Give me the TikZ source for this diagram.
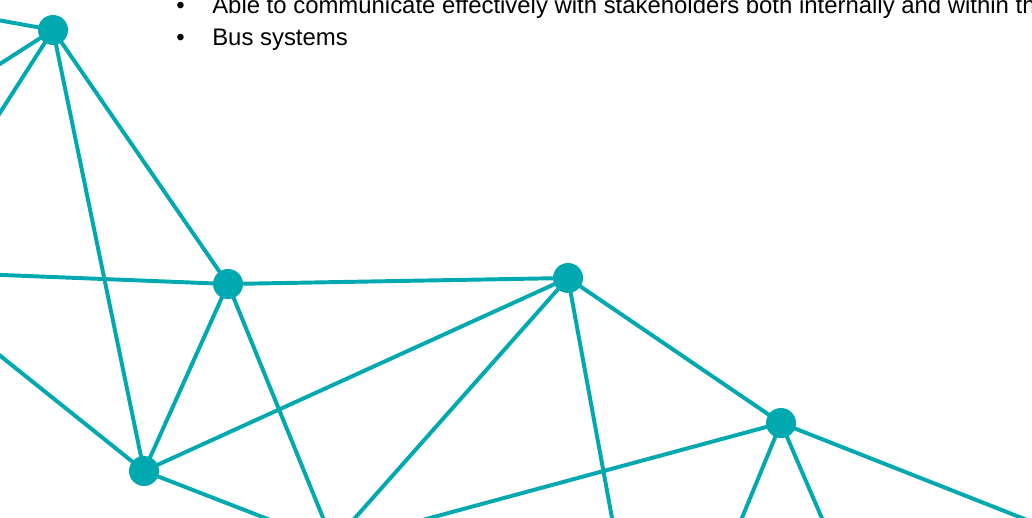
\documentclass[tikz,border=0pt]{standalone}
\usepackage{fontspec}
\setmainfont{Liberation Sans}
\usetikzlibrary{backgrounds}

\definecolor{netteal}{RGB}{0,168,176}

\begin{document}
\begin{tikzpicture}[x = 0.025cm,
                    y = -0.025cm,
                    hub/.style  = {circle, fill=netteal, inner sep=0pt, minimum size=0.75cm},
                    link/.style = {draw=netteal, line width=2.8pt},
                    item/.style = {anchor=base west, inner sep=0pt,
                                   font=\fontsize{17}{20}\selectfont}]

    \useasboundingbox (0,0) rectangle (1032,518);
    \clip (3,0) rectangle (1032,518);

    % bullet list
    \node[item] (dot1) at (176,13.5) {\textbullet};
    \node[item] (txt1) at (212,13.5) {Able to communicate effectively with stakeholders both internally and within the};
    \node[item] (dot2) at (176,46) {\textbullet};
    \node[item] (txt2) at (212,46) {Bus systems};

    % hubs
    \node[hub] (A) at (53,30)   {};
    \node[hub] (B) at (228,284) {};
    \node[hub] (C) at (568,278) {};
    \node[hub] (D) at (144,471) {};
    \node[hub] (E) at (781,423) {};

    % loose ends past the edges
    \coordinate (a1) at (-10,18.7);
    \coordinate (a2) at (-10,70.3);
    \coordinate (a3) at (-10,128.3);
    \coordinate (b1) at (-10,274.5);
    \coordinate (b2) at (328,530);
    \coordinate (c1) at (344.3,530);
    \coordinate (c2) at (614.2,530);
    \coordinate (d1) at (-10,347.6);
    \coordinate (d2) at (296,530);
    \coordinate (e1) at (385.7,530);
    \coordinate (e2) at (737,530);
    \coordinate (e3) at (827,530);
    \coordinate (e4) at (1052.4,530);

    \begin{scope}[on background layer]
        \draw[link] (A.center) -- (a1);
        \draw[link] (A.center) -- (a2);
        \draw[link] (A.center) -- (a3);
        \draw[link] (A.center) -- (B.center);
        \draw[link] (A.center) -- (D.center);

        \draw[link] (B.center) -- (b1);
        \draw[link] (B.center) -- (C.center);
        \draw[link] (B.center) -- (D.center);
        \draw[link] (B.center) -- (b2);

        \draw[link] (C.center) -- (D.center);
        \draw[link] (C.center) -- (c1);
        \draw[link] (C.center) -- (c2);
        \draw[link] (C.center) -- (E.center);

        \draw[link] (D.center) -- (d1);
        \draw[link] (D.center) -- (d2);

        \draw[link] (E.center) -- (e1);
        \draw[link] (E.center) -- (e2);
        \draw[link] (E.center) -- (e3);
        \draw[link] (E.center) -- (e4);
    \end{scope}

\end{tikzpicture}
\end{document}
